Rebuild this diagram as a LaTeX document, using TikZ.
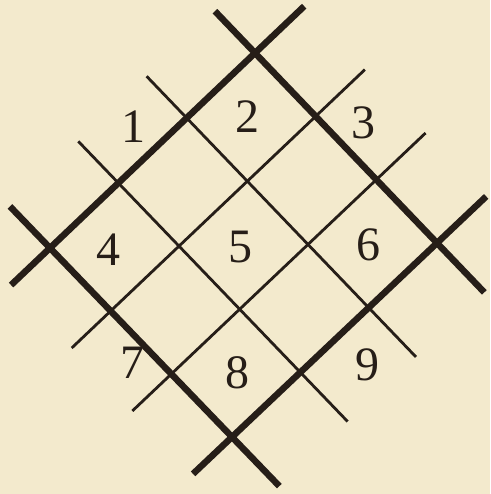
\documentclass[tikz,border=0pt]{standalone}
\usepackage{tikz}
\usepackage{fontspec}
\setmainfont{Liberation Serif}
\usetikzlibrary{calc}
\definecolor{paper}{RGB}{243,234,205}
\definecolor{ink}{RGB}{38,30,24}
\tikzstyle{thickline} = [line width=6.5pt, color=ink]
\tikzstyle{thinline} = [line width=2.8pt, color=ink]
\tikzstyle{cell} = [font=\fontsize{48}{48}\selectfont, text=ink, inner sep=0pt]

\begin{document}
\begin{tikzpicture}[x=1pt, y=-1pt]
  \fill[paper] (0,0) rectangle (490,494);

  % corners of the square
  \coordinate (T) at (255,53);
  \coordinate (L) at (50,248);
  \coordinate (R) at (437,243);
  \coordinate (B) at (232,437);

  % lines parallel to T--R
  \foreach \k/\w in {0/thickline,1/thinline,2/thinline,3/thickline} {
    \coordinate (a) at ($(T)!\k/3!(L)$);
    \coordinate (b) at ($(R)!\k/3!(B)$);
    \draw[\w] ($(a)!-0.22!(b)$) -- ($(a)!1.26!(b)$);
  }
  % lines parallel to T--L
  \foreach \k/\w in {0/thickline,1/thinline,2/thinline,3/thickline} {
    \coordinate (a) at ($(T)!\k/3!(R)$);
    \coordinate (b) at ($(L)!\k/3!(B)$);
    \draw[\w] ($(a)!-0.24!(b)$) -- ($(a)!1.19!(b)$);
  }

  \node[cell] (n1) at (133,127) {1};
  \node[cell] (n2) at (247,117) {2};
  \node[cell] (n3) at (363,123) {3};
  \node[cell] (n4) at (108,250) {4};
  \node[cell] (n5) at (240,247) {5};
  \node[cell] (n6) at (368,245) {6};
  \node[cell] (n7) at (132,363) {7};
  \node[cell] (n8) at (237,373) {8};
  \node[cell] (n9) at (367,365) {9};
\end{tikzpicture}
\end{document}
